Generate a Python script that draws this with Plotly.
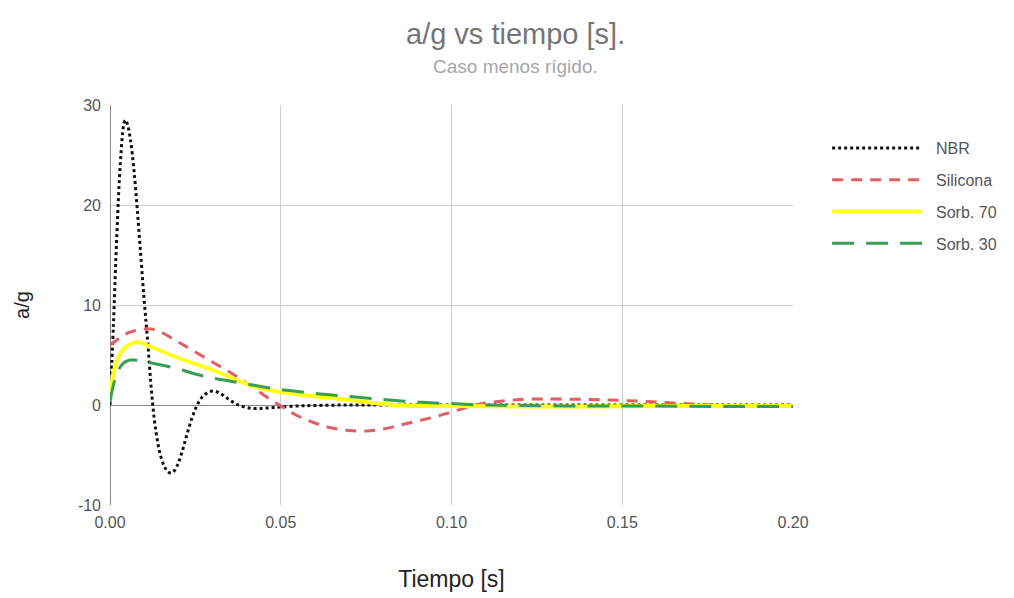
import plotly.graph_objects as go

# Time samples (s) and a/g readings for each material
t_nbr = [0, 0.001, 0.002, 0.003, 0.004, 0.0045, 0.005, 0.006, 0.007, 0.008, 0.009,
         0.010, 0.011, 0.012, 0.013, 0.014, 0.015, 0.016, 0.017, 0.018, 0.019,
         0.020, 0.021, 0.022, 0.023, 0.024, 0.025, 0.026, 0.027, 0.028, 0.029,
         0.030, 0.031, 0.032, 0.033, 0.034, 0.035, 0.036, 0.037, 0.038, 0.040,
         0.042, 0.044, 0.046, 0.048, 0.050, 0.055, 0.060, 0.070, 0.080, 0.100,
         0.120, 0.140, 0.160, 0.180, 0.200]
a_nbr = [0, 8, 17, 24, 28, 28.5, 28.2, 26.5, 23.5, 19.5, 15,
         10.5, 6.5, 2, -1.5, -3.8, -5.3, -6.2, -6.7, -6.8, -6.5,
         -5.8, -4.8, -3.6, -2.4, -1.3, -0.4, 0.3, 0.8, 1.1, 1.3,
         1.4, 1.35, 1.2, 1.0, 0.75, 0.5, 0.3, 0.1, -0.05, -0.25,
         -0.35, -0.35, -0.3, -0.25, -0.2, -0.1, -0.05, 0, 0, 0,
         0, 0, 0, 0, 0]

t_sil = [0, 0.002, 0.004, 0.006, 0.008, 0.010, 0.012, 0.014, 0.016, 0.018, 0.020,
         0.022, 0.025, 0.030, 0.035, 0.040, 0.045, 0.050, 0.055, 0.060, 0.065,
         0.070, 0.075, 0.080, 0.085, 0.090, 0.095, 0.100, 0.105, 0.110, 0.115,
         0.120, 0.125, 0.130, 0.140, 0.150, 0.160, 0.170, 0.180, 0.190, 0.200]
a_sil = [6.0, 6.5, 7.0, 7.3, 7.5, 7.6, 7.6, 7.4, 7.1, 6.7, 6.3,
         5.9, 5.3, 4.3, 3.3, 2.2, 1.0, -0.1, -1.1, -1.8, -2.3,
         -2.55, -2.6, -2.4, -2.0, -1.6, -1.2, -0.7, -0.2, 0.2, 0.4,
         0.55, 0.6, 0.6, 0.55, 0.45, 0.3, 0.1, -0.05, -0.1, -0.1]

t_s70 = [0, 0.001, 0.002, 0.003, 0.004, 0.006, 0.008, 0.010, 0.012, 0.015, 0.020,
         0.025, 0.030, 0.035, 0.040, 0.045, 0.050, 0.055, 0.060, 0.065, 0.070,
         0.075, 0.080, 0.085, 0.090, 0.100, 0.120, 0.140, 0.160, 0.180, 0.200]
a_s70 = [1.0, 3.2, 4.4, 5.1, 5.6, 6.1, 6.3, 6.1, 5.8, 5.4, 4.7,
         4.1, 3.5, 2.8, 2.1, 1.6, 1.3, 1.05, 0.85, 0.7, 0.5,
         0.3, 0.1, -0.05, -0.1, -0.1, -0.15, -0.15, -0.1, -0.1, -0.1]

t_s30 = [0, 0.001, 0.002, 0.003, 0.004, 0.005, 0.006, 0.007, 0.008, 0.010, 0.012,
         0.015, 0.020, 0.025, 0.030, 0.035, 0.040, 0.045, 0.050, 0.055, 0.060,
         0.065, 0.070, 0.075, 0.080, 0.085, 0.090, 0.095, 0.100, 0.105, 0.110,
         0.120, 0.140, 0.160, 0.180, 0.200]
a_s30 = [0.3, 2.0, 3.1, 3.8, 4.2, 4.4, 4.5, 4.5, 4.45, 4.35, 4.2,
         4.0, 3.6, 3.1, 2.7, 2.4, 2.1, 1.8, 1.55, 1.35, 1.15,
         1.0, 0.85, 0.7, 0.55, 0.4, 0.3, 0.2, 0.15, 0.05, 0.0,
         -0.05, -0.1, -0.1, -0.15, -0.15]

x_ticks = [0, 0.05, 0.10, 0.15, 0.20]
y_ticks = [-10, 0, 10, 20, 30]

FONT = "Liberation Sans, Arial, sans-serif"
NBSP = "\u00a0\u00a0"  # small gap between legend swatch and label

fig = go.Figure()
series = [
    ("NBR", t_nbr, a_nbr, dict(color="#111111", width=3, dash="dot")),
    ("Silicona", t_sil, a_sil, dict(color="#e35d63", width=3, dash="11px,8px")),
    ("Sorb. 70", t_s70, a_s70, dict(color="#ffff1a", width=4)),
    ("Sorb. 30", t_s30, a_s30, dict(color="#3a9d57", width=3, dash="22px,12px")),
]
for name, t, a, ln in series:
    fig.add_trace(go.Scatter(x=t, y=a, mode="lines", name=NBSP + name, line=ln,
                             line_shape="spline", legendgroup=name))

fig.update_layout(
    width=1014, height=598,
    margin=dict(l=110, r=219, t=105, b=93),
    paper_bgcolor="white", plot_bgcolor="white",
    font=dict(family=FONT, color="#444444"),
    showlegend=True,
    legend=dict(x=1.05, y=0.935, xanchor="left", yanchor="top",
                font=dict(size=16, color="#555555"), itemwidth=90,
                tracegroupgap=8, bgcolor="rgba(0,0,0,0)"),
)
fig.add_annotation(text="a/g vs tiempo [s].", xref="paper", yref="paper",
                   x=(517 - 110) / 685, y=(505 - 34) / 400, showarrow=False,
                   font=dict(size=29, color="#757575", family=FONT),
                   xanchor="center", yanchor="middle")
fig.add_annotation(text="Caso menos rígido.", xref="paper", yref="paper",
                   x=(517 - 110) / 685, y=(505 - 66) / 400, showarrow=False,
                   font=dict(size=19, color="#a6a6a6", family=FONT),
                   xanchor="center", yanchor="middle")

fig.update_xaxes(range=[0, 0.2], tickvals=x_ticks, tickformat=".2f",
                 showgrid=True, gridcolor="#cccccc", gridwidth=1,
                 zeroline=True, zerolinecolor="#888888", zerolinewidth=1,
                 showline=False, ticks="", ticklabelstandoff=6,
                 tickfont=dict(size=16, color="#555555"), automargin=False,
                 title=dict(text="Tiempo [s]", font=dict(size=23, color="#222222"),
                            standoff=40))
fig.update_yaxes(range=[-10, 30], tickvals=y_ticks,
                 ticktext=[str(v) for v in y_ticks],
                 showgrid=True, gridcolor="#cccccc", gridwidth=1,
                 zeroline=True, zerolinecolor="#888888", zerolinewidth=1,
                 showline=False, ticks="", ticklabelstandoff=8,
                 tickfont=dict(size=16, color="#555555"), automargin=False,
                 title=dict(text="a/g", font=dict(size=20, color="#222222"),
                            standoff=42))

fig.write_html("out.html")
